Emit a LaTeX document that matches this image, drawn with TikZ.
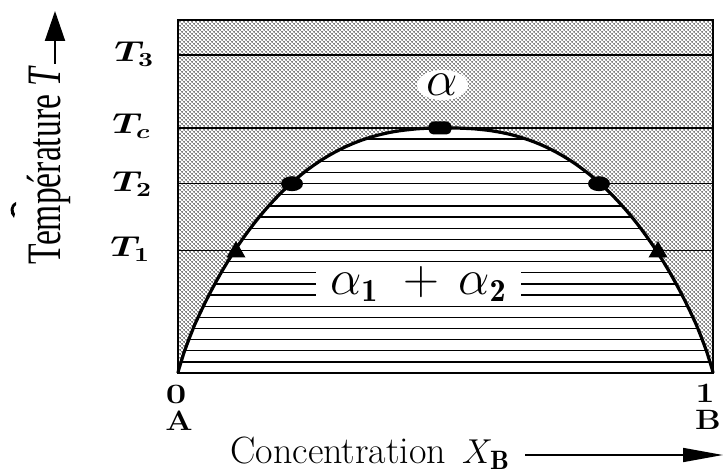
\documentclass[tikz,border=0pt]{standalone}
\usepackage{graphicx}
\usepackage{fontspec}
\newfontfamily\timesfont{Liberation Serif}
\usetikzlibrary{arrows.meta,shapes.geometric,patterns}
\pgfdeclarepatternformonly{stipple}{\pgfqpoint{-0.5pt}{-0.5pt}}{\pgfqpoint{1.5pt}{1.5pt}}{\pgfqpoint{2pt}{2pt}}{%
  \pgfpathcircle{\pgfqpoint{0pt}{0pt}}{0.38pt}%
  \pgfpathcircle{\pgfqpoint{1pt}{1pt}}{0.38pt}%
  \pgfusepath{fill}}
\pgfmathdeclarefunction{gapy}{1}{\pgfmathparse{373-245*(1-abs(#1)^2.45)^0.85}}
\begin{document}
\begin{tikzpicture}[x=0.5pt,y=-0.5pt,
  tline/.style={line width=0.8pt},
  hline/.style={line width=0.65pt},
  curveline/.style={line width=1.6pt},
  frameline/.style={line width=1.2pt},
  Tlab/.style={anchor=base west, inner sep=0pt, font=\fontsize{14}{16}\selectfont\boldmath},
  axlab/.style={inner sep=0pt, font=\fontsize{14}{16}\selectfont\bfseries},
  marker/.style={fill=black, inner sep=0pt},
  gaplab/.style={fill=white, inner sep=0pt, font=\fontsize{23}{25}\selectfont}
]
\useasboundingbox (0,0) rectangle (726,474);
% stippled single-phase field
\fill[pattern=stipple, pattern color=black] (178,20) rectangle (713,373);
% miscibility gap: white with tie lines
\begin{scope}
  \clip (178,373) -- plot[domain=-0.998:0.998, samples=100] ({445.5+267.5*\x},{gapy(\x)}) -- (713,373) -- cycle;
  \fill[white] (170,100) rectangle (720,380);
  \foreach \k in {1,...,21} {
    \draw[hline] (170,{128+\k*11.136}) -- (720,{128+\k*11.136});
  }
\end{scope}
% isotherms
\draw[tline] (178,55) -- (713,55);
\draw[tline] (178,128) -- (713,128);
\draw[tline] (178,183.7) -- (713,183.7);
\draw[tline] (178,250.5) -- (713,250.5);
% labels inside the field
\node[gaplab, ellipse, minimum width=25.5pt, minimum height=13pt] (alpha) at (442.5,85) {$\alpha$};
\node[gaplab, rectangle, minimum width=102.5pt, minimum height=16.5pt] (mix) at (418.5,283.75) {$\alpha_{\mathbf 1}\;+\,\alpha_{\mathbf 2}$};
% binodal curve
\draw[curveline] (178,373) -- plot[domain=-0.998:0.998, samples=100] ({445.5+267.5*\x},{gapy(\x)}) -- (713,373);
% frame
\draw[frameline] (178,20) rectangle (713,373);
% markers
\node[marker, rectangle, rounded corners=2.5pt, minimum width=11.5pt, minimum height=6.5pt] (mc) at (440,128) {};
\node[marker, ellipse, minimum width=11pt, minimum height=7.5pt] (m2l) at (292,183.7) {};
\node[marker, ellipse, minimum width=11pt, minimum height=7.5pt] (m2r) at (599,183.7) {};
\node[marker, regular polygon, regular polygon sides=3, minimum size=11pt] (m1l) at (236,252) {};
\node[marker, regular polygon, regular polygon sides=3, minimum size=11pt] (m1r) at (658,252) {};
% temperature labels
\node[Tlab] (t3) at (114,62) {\scalebox{1.3}[1]{$T_{\mathbf 3}$}};
\node[Tlab] (tc) at (112,134) {\scalebox{1.3}[1]{$T_c$}};
\node[Tlab] (t2) at (112,192) {\scalebox{1.3}[1]{$T_{\mathbf 2}$}};
\node[Tlab] (t1) at (110,257) {\scalebox{1.3}[1]{$T_{\mathbf 1}$}};
% vertical axis title and arrow
\node[rotate=90, inner sep=0pt, font=\timesfont\fontsize{24}{26}\selectfont] (templab) at (49,165) {\scalebox{0.7}[1]{Température \textit{T}}};
\coordinate (tas) at (55,64);
\coordinate (tae) at (55,11);
\draw[line width=1pt, -{Triangle[length=15pt,width=10pt]}] (tas) -- (tae);
\fill (16,202) .. controls (9,205) and (9,213) .. (14,218) -- (15,214) .. controls (13,211) and (13,207) .. (16,205) -- cycle;
% composition axis
\node[axlab] (zero) at (176,394) {\scalebox{1.3}[1]{0}};
\node[axlab] (la) at (179,421) {\scalebox{1.15}[1]{A}};
\node[axlab] (one) at (705,393) {\scalebox{1.2}[1]{1}};
\node[axlab] (lb) at (708,420) {\scalebox{1.15}[1]{B}};
\node[anchor=base west, inner sep=0pt, font=\fontsize{19}{21}\selectfont] (conc) at (230,463) {Concentration\hspace{8pt}$X_{\mathbf B}$};
\coordinate (xas) at (525,455);
\coordinate (xae) at (723,455);
\draw[line width=0.8pt, -{Triangle[length=20pt,width=7pt]}] (xas) -- (xae);
\end{tikzpicture}
\end{document}
